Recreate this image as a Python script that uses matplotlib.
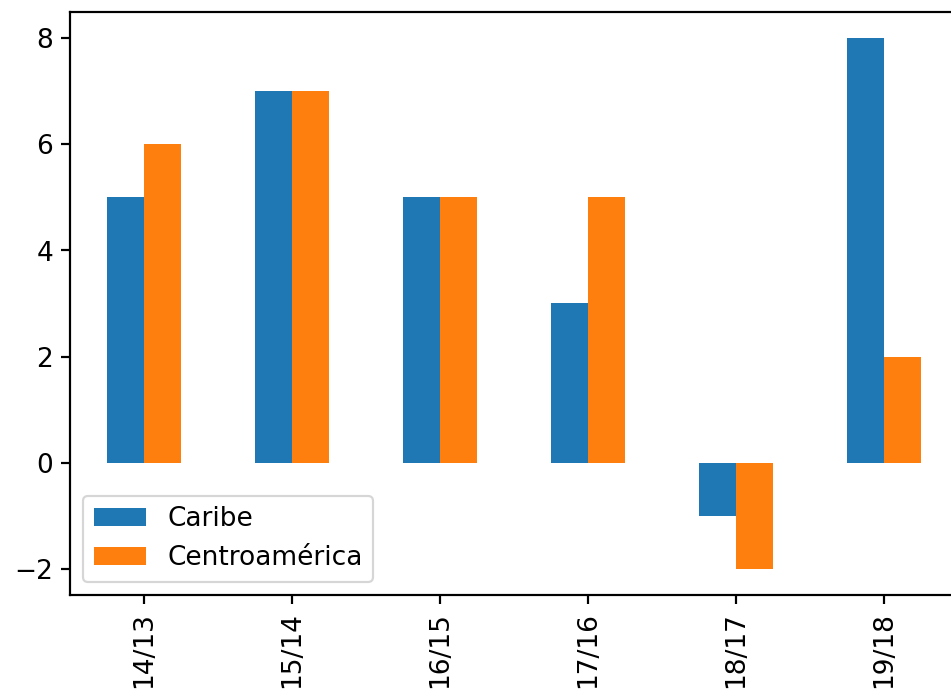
import numpy as np
import matplotlib
matplotlib.use("Agg")
import matplotlib.pyplot as plt

periods = ["14/13", "15/14", "16/15", "17/16", "18/17", "19/18"]
caribe = [5, 7, 5, 3, -1, 8]
centroamerica = [6, 7, 5, 5, -2, 2]

plt.rcParams["font.size"] = 12
plt.rcParams["axes.linewidth"] = 1.0
plt.rcParams["xtick.major.size"] = 4.2
plt.rcParams["ytick.major.size"] = 4.2
plt.rcParams["xtick.major.width"] = 1.0
plt.rcParams["ytick.major.width"] = 1.0

DPI = 158
fig = plt.figure(figsize=(951 / DPI, 696 / DPI), dpi=DPI)
# axes runs past the right edge, like the cropped original
ax = fig.add_axes([70 / 951, 1 - 595 / 696, 888 / 951, 583 / 696])

x = np.arange(len(periods))
w = 0.25
ax.bar(x - w / 2, caribe, w, color="#1f77b4", label="Caribe")
ax.bar(x + w / 2, centroamerica, w, color="#ff7f0e", label="Centroamérica")

ax.set_xticks(x)
ax.set_xticklabels(periods, rotation=90)
ax.set_xlim(-0.5, len(periods) - 0.5)
ax.set_ylim(-2.5, 8.5)
ax.set_yticks([-2, 0, 2, 4, 6, 8])
ax.legend(loc="lower left")

fig.savefig("out.png", dpi=DPI)
